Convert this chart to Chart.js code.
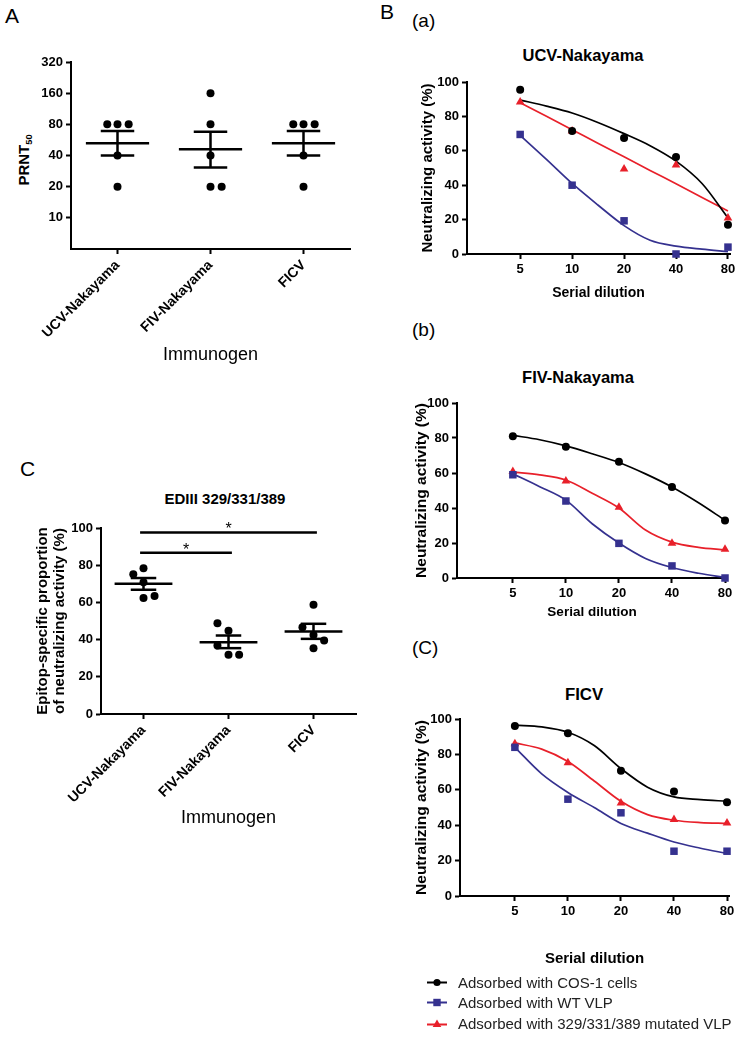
<!DOCTYPE html>
<html>
<head>
<meta charset="utf-8">
<script src="https://cdn.jsdelivr.net/npm/chart.js@4.4.1/dist/chart.umd.min.js"></script>
<style>
  html, body { margin: 0; padding: 0; background: #fff; }
  body { position: relative; width: 749px; height: 1046px; overflow: hidden;
         font-family: 'Liberation Sans', Arial, Helvetica, sans-serif; color: #000; }
  canvas { position: absolute; }
  .lbl { position: absolute; white-space: nowrap; line-height: 1; transform: translate(-50%, -50%); }
  .lbl.start { transform: translate(0, -50%); }
  .lbl.rot { transform: translate(-50%, -50%) rotate(-90deg); }
  .b { font-weight: bold; }
  .leg { position: absolute; left: 427px; transform: translateY(-50%); display: flex; align-items: center;
         gap: 11px; font-size: 15px; color: #222; white-space: nowrap; }
  sub { font-size: 0.62em; vertical-align: -0.3em; }
</style>
</head>
<body>

<!-- panel letters and titles -->
<div class="lbl start" style="left:5px;top:15px;font-size:21px">A</div>
<div class="lbl start" style="left:380px;top:11px;font-size:21px">B</div>
<div class="lbl start" style="left:412px;top:20px;font-size:19px">(a)</div>
<div class="lbl start" style="left:412px;top:329px;font-size:19px">(b)</div>
<div class="lbl start" style="left:412px;top:647px;font-size:19px">(C)</div>
<div class="lbl start" style="left:20px;top:468px;font-size:21px">C</div>

<div class="lbl b" style="left:583px;top:55px;font-size:16.5px">UCV-Nakayama</div>
<div class="lbl b" style="left:578px;top:377px;font-size:16.5px">FIV-Nakayama</div>
<div class="lbl b" style="left:584px;top:695px;font-size:16.8px">FICV</div>
<div class="lbl b" style="left:225px;top:498px;font-size:15px">EDIII 329/331/389</div>
<div class="lbl rot b" style="left:25px;top:160px;font-size:15px">PRNT<sub>50</sub></div>

<canvas id="chartA"></canvas>
<canvas id="chartC"></canvas>
<canvas id="chartBa"></canvas>
<canvas id="chartBb"></canvas>
<canvas id="chartBc"></canvas>

<!-- legend for panel B -->
<div class="leg" style="top:982px">
  <svg width="20" height="10"><line x1="0" y1="5" x2="20" y2="5" stroke="#000" stroke-width="2"/><circle cx="10" cy="5" r="3.6" fill="#000"/></svg>
  <span>Adsorbed with COS-1 cells</span>
</div>
<div class="leg" style="top:1002px">
  <svg width="20" height="10"><line x1="0" y1="5" x2="20" y2="5" stroke="#35318f" stroke-width="2"/><rect x="6.3" y="1.3" width="7.4" height="7.4" fill="#35318f"/></svg>
  <span>Adsorbed with WT VLP</span>
</div>
<div class="leg" style="top:1023px">
  <svg width="20" height="10"><line x1="0" y1="6" x2="20" y2="6" stroke="#e8202a" stroke-width="2"/><polygon points="10,1 14.3,8.5 5.7,8.5" fill="#e8202a"/></svg>
  <span>Adsorbed with 329/331/389 mutated VLP</span>
</div>

<script>
// ---- data: panel A (PRNT50 titres) ----
var immunogens = ['UCV-Nakayama', 'FIV-Nakayama', 'FICV'];
var prntTicks = [10, 20, 40, 80, 160, 320];
var prntUCV = [80, 80, 80, 40, 20];
var prntFIV = [160, 80, 40, 20, 20];
var prntFICV = [80, 80, 80, 40, 20];
var prntJitter = [[-0.11, 0, 0.12, 0, 0], [0, 0, 0, 0, 0.12], [-0.11, 0, 0.12, 0, 0]];
var prntMean = [52.5, 46, 52.5];
var prntLow = [40, 30.7, 40];
var prntHigh = [69, 68, 69];

// ---- data: panel C (epitope-specific proportion, %) ----
var pctTicks = [0, 20, 40, 60, 80, 100];
var epiUCV = [78.4, 75.2, 70.9, 62.3, 63.5];
var epiFIV = [48.8, 44.7, 36.8, 31.8, 31.8];
var epiFICV = [58.7, 46.7, 42.5, 39.5, 35.4];
var epiJitter = [[0, -0.12, 0, 0, 0.13], [-0.13, 0, -0.13, 0, 0.125], [0, -0.13, 0, 0.125, 0]];
var epiMean = [70, 38.6, 44.3];
var epiLow = [66.8, 35.4, 40.4];
var epiHigh = [73.1, 42.2, 48.5];
var epiSig = [[0, 1, 86.7], [0, 2, 97.6]];   // [from, to, bar level]

// ---- data: panel B (neutralizing activity, %) ----
var dilutions = [5, 10, 20, 40, 80];
var fitDilutions = [5, 7.1, 10, 14.1, 20, 28.3, 40, 56.6, 80];

var ucvCos = [95.5, 71.5, 67.4, 56.4, 17];
var ucvWt = [69.5, 40, 19.3, 0, 4];
var ucvMut = [88.4, 71.5, 49.4, 51.7, 21];
var ucvCosFit = [89.5, 86, 82, 76.5, 70, 63, 54, 41, 21];
var ucvWtFit = [69, 55, 41, 28.5, 16.5, 8, 4.6, 2.8, 1.4];
var ucvMutFit = [88, 80.1, 72.3, 64.4, 56.5, 48.6, 40.8, 32.9, 25];

var fivCos = [81, 75, 66.5, 52, 32.8];
var fivWt = [59, 44, 19.8, 6.9, 0];
var fivMut = [60.8, 55.4, 40.4, 19.8, 16.4];
var fivCosFit = [81.5, 79, 75.5, 71, 66, 59.5, 52, 43, 33];
var fivWtFit = [59.5, 52.2, 44.5, 31, 20, 11.2, 6, 2.7, 0.3];
var fivMutFit = [60.5, 58.9, 56, 48.4, 40, 27.4, 20.5, 17.5, 16];

var ficvCos = [96, 92, 70.8, 59, 53];
var ficvWt = [84, 54.7, 47, 25.3, 25.3];
var ficvMut = [86, 75.3, 52.6, 43.2, 41.3];
var ficvCosFit = [96.5, 95.5, 92.5, 85, 72, 61.5, 56, 54.5, 53.5];
var ficvWtFit = [84, 69, 58.5, 50, 41, 35.5, 30.5, 27, 24];
var ficvMutFit = [86.5, 83, 76, 65, 53.5, 46, 42.8, 41.5, 41];

var BLACK = '#000000', BLUE = '#35318f', RED = '#e8202a';

Chart.defaults.font.family = "'Liberation Sans', Arial, Helvetica, sans-serif";
Chart.defaults.color = '#000';
Chart.defaults.animation = false;
Chart.defaults.plugins.legend.display = false;
Chart.defaults.plugins.tooltip.enabled = false;

// put a canvas at a fixed spot of the page
function place(id, left, top, width, height) {
    var c = document.getElementById(id);
    c.width = width;
    c.height = height;
    c.style.left = left + 'px';
    c.style.top = top + 'px';
    return c;
}

// axis in the GraphPad look: thick line, outside ticks, no grid
function axis(o) {
    return {
        type: o.type,
        min: o.min,
        max: o.max,
        bounds: 'data',
        border: { color: '#000', width: 2 },
        grid: { drawOnChartArea: false, drawTicks: true, tickLength: 5, tickWidth: 2, color: '#000' },
        ticks: {
            color: '#000',
            padding: 3,
            autoSkip: false,
            font: { size: o.fontSize || 13, weight: 'bold' },
            maxRotation: o.rotate || 0,
            minRotation: o.rotate || 0,
            callback: o.labelOf || function (v) { return String(v); }
        },
        title: o.title || { display: false },
        afterBuildTicks: function (s) {
            s.ticks = o.ticks.map(function (v) { return { value: v }; });
        },
        afterFit: function (s) {
            if (o.horizontal) { s.height = o.size; } else { s.width = o.size; }
        }
    };
}

// scatter points of a dot plot, one group per immunogen
function dotPoints(groups, jitter) {
    var out = [];
    groups.forEach(function (vals, i) {
        vals.forEach(function (v, k) {
            out.push({ x: i + jitter[i][k], y: v });
        });
    });
    return out;
}

// mean line, SEM whiskers and significance bars
function meanSemPlugin(mean, low, high, meanHalf, capHalf, sig) {
    return {
        id: 'meanSem',
        afterDatasetsDraw: function (chart) {
            var ctx = chart.ctx, x = chart.scales.x, y = chart.scales.y;
            function seg(x1, y1, x2, y2) {
                ctx.beginPath(); ctx.moveTo(x1, y1); ctx.lineTo(x2, y2); ctx.stroke();
            }
            ctx.save();
            ctx.strokeStyle = '#000';
            ctx.lineWidth = 2.5;
            mean.forEach(function (m, i) {
                var ym = y.getPixelForValue(m);
                var yl = y.getPixelForValue(low[i]);
                var yh = y.getPixelForValue(high[i]);
                var xc = x.getPixelForValue(i);
                seg(x.getPixelForValue(i - meanHalf), ym, x.getPixelForValue(i + meanHalf), ym);
                seg(xc, yl, xc, yh);
                seg(x.getPixelForValue(i - capHalf), yl, x.getPixelForValue(i + capHalf), yl);
                seg(x.getPixelForValue(i - capHalf), yh, x.getPixelForValue(i + capHalf), yh);
            });
            (sig || []).forEach(function (s) {
                var yb = y.getPixelForValue(s[2]);
                var x1 = x.getPixelForValue(s[0] - 0.04);
                var x2 = x.getPixelForValue(s[1] + 0.04);
                ctx.lineWidth = 2.5;
                seg(x1, yb, x2, yb);
                ctx.fillStyle = '#000';
                ctx.font = "16px 'Liberation Sans', Arial, sans-serif";
                ctx.textAlign = 'center';
                ctx.textBaseline = 'alphabetic';
                ctx.fillText('*', (x1 + x2) / 2, yb + 2);
            });
            ctx.restore();
        }
    };
}

// ---- panel A ----
new Chart(place('chartA', 0, 40, 370, 330), {
    type: 'scatter',
    data: {
        datasets: [{
            data: dotPoints([prntUCV, prntFIV, prntFICV], prntJitter),
            pointRadius: 4, pointBackgroundColor: '#000', pointBorderWidth: 0, clip: false
        }]
    },
    options: {
        responsive: false,
        layout: { padding: { top: 22, right: 20, left: 0, bottom: 0 } },
        scales: {
            x: axis({
                type: 'linear', min: -0.5, max: 2.5, ticks: [0, 1, 2], horizontal: true, size: 121,
                fontSize: 14, rotate: 45,
                labelOf: function (v) { return immunogens[v]; },
                title: { display: true, text: 'Immunogen', font: { size: 18, weight: 'normal' }, padding: { top: 0, bottom: 4 } }
            }),
            y: axis({ type: 'logarithmic', min: 5, max: 320, ticks: prntTicks, size: 71 })
        }
    },
    plugins: [meanSemPlugin(prntMean, prntLow, prntHigh, 0.34, 0.18)]
});

// ---- panel C ----
new Chart(place('chartC', 0, 510, 370, 323), {
    type: 'scatter',
    data: {
        datasets: [{
            data: dotPoints([epiUCV, epiFIV, epiFICV], epiJitter),
            pointRadius: 4, pointBackgroundColor: '#000', pointBorderWidth: 0, clip: false
        }]
    },
    options: {
        responsive: false,
        layout: { padding: { top: 18, right: 14, left: 0, bottom: 0 } },
        scales: {
            x: axis({
                type: 'linear', min: -0.5, max: 2.5, ticks: [0, 1, 2], horizontal: true, size: 119,
                fontSize: 14, rotate: 45,
                labelOf: function (v) { return immunogens[v]; },
                title: { display: true, text: 'Immunogen', font: { size: 18, weight: 'normal' }, padding: { top: 0, bottom: 4 } }
            }),
            y: axis({
                type: 'linear', min: 0, max: 100, ticks: pctTicks, size: 101,
                title: {
                    display: true,
                    text: ['Epitop-specific proportion', 'of neutralizing activity (%)'],
                    font: { size: 15, weight: 'bold', lineHeight: 1.15 },
                    padding: { top: 34.4, bottom: 0 }
                }
            })
        }
    },
    plugins: [meanSemPlugin(epiMean, epiLow, epiHigh, 0.34, 0.15, epiSig)]
});

// ---- panel B: neutralization curves ----
function pts(xs, ys) {
    return xs.map(function (x, i) { return { x: x, y: ys[i] }; });
}

function fitLine(vals, color) {
    return {
        data: pts(fitDilutions, vals), showLine: true, borderColor: color, borderWidth: 1.7,
        pointRadius: 0, cubicInterpolationMode: 'monotone', fill: false, clip: false, order: 2
    };
}

function markers(vals, color, style, radius) {
    return {
        data: pts(dilutions, vals), showLine: false, pointStyle: style, pointRadius: radius,
        pointBackgroundColor: color, pointBorderColor: color, pointBorderWidth: 0, clip: false, order: 1
    };
}

function neutChart(p) {
    var box = p.box, area = p.area;
    var boxBottom = box[1] + box[3];
    var xLh = p.xTitleSize * 1.2;
    new Chart(place(p.id, box[0], box[1], box[2], box[3]), {
        type: 'scatter',
        data: {
            datasets: [
                fitLine(p.cosFit, BLACK), fitLine(p.wtFit, BLUE), fitLine(p.mutFit, RED),
                markers(p.cos, BLACK, 'circle', 4),
                markers(p.wt, BLUE, 'rect', 5.3),
                markers(p.mut, RED, 'triangle', 5)
            ]
        },
        options: {
            responsive: false,
            layout: { padding: { top: area[1] - box[1], right: box[0] + box[2] - area[2], left: 0, bottom: 0 } },
            scales: {
                x: axis({
                    type: 'logarithmic', min: p.xMin, max: p.xMax, ticks: dilutions, horizontal: true,
                    size: boxBottom - area[3],
                    title: {
                        display: true, text: 'Serial dilution',
                        font: { size: p.xTitleSize, weight: 'bold', lineHeight: 1.2 },
                        padding: { top: 0, bottom: boxBottom - p.xTitleY - xLh / 2 }
                    }
                }),
                y: axis({
                    type: 'linear', min: 0, max: 100, ticks: pctTicks, size: area[0] - box[0],
                    title: {
                        display: true, text: 'Neutralizing activity (%)',
                        font: { size: p.yTitleSize, weight: 'bold', lineHeight: 1.15 },
                        padding: { top: p.yTitleX - box[0] - p.yTitleSize * 1.15 / 2, bottom: 0 }
                    }
                })
            }
        }
    });
}

neutChart({
    id: 'chartBa', box: [380, 70, 369, 240], area: [467, 82, 730, 254], xMin: 2.46, xMax: 82.2,
    xTitleY: 293, xTitleSize: 14, yTitleX: 428, yTitleSize: 15,
    cos: ucvCos, wt: ucvWt, mut: ucvMut, cosFit: ucvCosFit, wtFit: ucvWtFit, mutFit: ucvMutFit
});
neutChart({
    id: 'chartBb', box: [380, 390, 369, 240], area: [457, 403, 727, 578], xMin: 2.41, xMax: 82.1,
    xTitleY: 612, xTitleSize: 13.5, yTitleX: 422, yTitleSize: 15.5,
    cos: fivCos, wt: fivWt, mut: fivMut, cosFit: fivCosFit, wtFit: fivWtFit, mutFit: fivMutFit
});
neutChart({
    id: 'chartBc', box: [380, 705, 369, 275], area: [460, 719, 729, 896], xMin: 2.44, xMax: 82.1,
    xTitleY: 959, xTitleSize: 15, yTitleX: 422, yTitleSize: 15.5,
    cos: ficvCos, wt: ficvWt, mut: ficvMut, cosFit: ficvCosFit, wtFit: ficvWtFit, mutFit: ficvMutFit
});
</script>
</body>
</html>
